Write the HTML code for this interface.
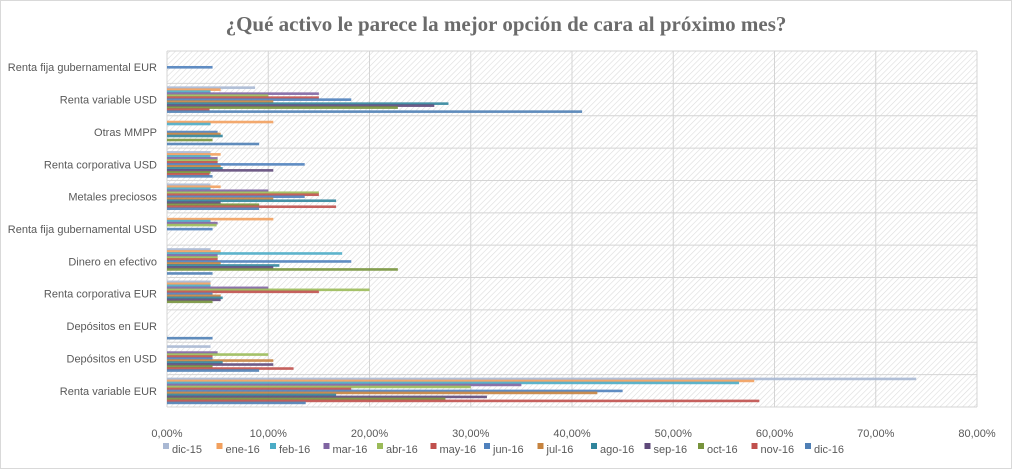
<!DOCTYPE html>
<html><head><meta charset="utf-8"><style>
body{margin:0;background:#fff;}
#wrap{position:relative;width:1012px;height:469px;overflow:hidden;}
text{font-family:"Liberation Sans",sans-serif;}
</style></head><body>
<div id="wrap">
<svg id="chart" width="1012" height="469">
<defs><pattern id="hatch" width="4" height="4" patternUnits="userSpaceOnUse" patternTransform="rotate(45)">
<rect width="4" height="4" fill="#fff"/><line x1="0" y1="0" x2="0" y2="4" stroke="#dcdcdc" stroke-width="1.2"/></pattern></defs>
<rect x="0.5" y="0.5" width="1011" height="468" fill="#fff" stroke="#d9d9d9"/>
<text x="506" y="31" text-anchor="middle" style="font-family:'Liberation Serif',serif;font-weight:bold;font-size:21px;fill:#6b6b6b">¿Qué activo le parece la mejor opción de cara al próximo mes?</text>
<rect x="167" y="51" width="810" height="356" fill="url(#hatch)"/>
<g id="grid"></g><g id="bars"></g><g id="labels"></g><g id="legend"></g>
</svg>
</div>
<script>
const categories=["Renta fija gubernamental EUR","Renta variable USD","Otras MMPP","Renta corporativa USD","Metales preciosos","Renta fija gubernamental USD","Dinero en efectivo","Renta corporativa EUR","Depósitos en EUR","Depósitos en USD","Renta variable EUR"];
const seriesNames=["dic-15","ene-16","feb-16","mar-16","abr-16","may-16","jun-16","jul-16","ago-16","sep-16","oct-16","nov-16","dic-16"];
const seriesColors=["#a9b8d3","#f2a05e","#4bacc6","#8064a2","#9bbb59","#c0504d","#4f81bd","#c6833f","#31859c","#5f497a","#77933c","#c0504d","#4f7fb5"];
// values[category][series] in %
const values=[
[0,0,0,0,0,0,4.5,0,0,0,0,0,0],
[8.7,5.3,4.3,15,10,15,18.2,10.5,27.8,26.4,22.8,4.2,41],
[0,10.5,4.3,0,0,0,5,5.3,5.5,0,4.5,0,9.1],
[4.3,5.3,4.3,5,5,5,13.6,5.3,5.5,10.5,4.3,4.2,4.5],
[4.3,5.3,4.3,10,15,15,13.6,10.5,16.7,5.3,9.1,16.7,9.1],
[0,10.5,4.3,5,4.9,0,4.5,0,0,0,0,0,0],
[4.3,5.3,17.3,5,5,5,18.2,5.3,11.1,10.5,22.8,0,4.5],
[4.3,4.3,4.3,10,20,15,4.5,5.3,5.5,5.3,4.5,0,0],
[0,0,0,0,0,0,0,0,0,0,0,0,4.5],
[4.3,0,0,5,10,4.5,4.5,10.5,5.5,10.5,4.5,12.5,9.1],
[74,58,56.5,35,30,18.2,45,42.5,16.7,31.6,27.5,58.5,13.7]
];
const xTicks=[0,10,20,30,40,50,60,70,80];
const tickLabels=["0,00%","10,00%","20,00%","30,00%","40,00%","50,00%","60,00%","70,00%","80,00%"];
const NS="http://www.w3.org/2000/svg";
const X0=167,X1=977,Y0=51,Y1=407,XMAX=80;
const bandH=(Y1-Y0)/categories.length;
function xs(v){return X0+(v/XMAX)*(X1-X0);}
function band(i){return Y0+i*bandH;}
function mk(tag,attrs,parent){const e=document.createElementNS(NS,tag);for(const k in attrs)e.setAttribute(k,attrs[k]);parent.appendChild(e);return e;}
const grid=document.getElementById('grid'),bars=document.getElementById('bars'),labels=document.getElementById('labels'),legend=document.getElementById('legend');
xTicks.forEach((t,i)=>{
 const l=mk('line',{x1:xs(t),x2:xs(t),y1:Y0,y2:Y1,stroke:'#d4d4d4','stroke-width':1},grid);
 
 
 const tx=mk('text',{x:xs(t),y:437,'text-anchor':'middle','font-size':'11px',fill:'#595959'},labels);
 tx.textContent=tickLabels[i];
 
 
});
for(let i=0;i<=categories.length;i++){
 const l=mk('line',{x1:X0,x2:X1,y1:band(i),y2:band(i),stroke:'#d4d4d4','stroke-width':1},grid);
 
 
}
const n=seriesNames.length,step=(bandH-6)/(n-1+1.2),bh=2.6;
categories.forEach((c,ci)=>{
 const tx=mk('text',{x:157,y:band(ci)+bandH/2+4,'text-anchor':'end','font-size':'11px',fill:'#595959'},labels);
 tx.textContent=c;
 
 
 values[ci].forEach((v,si)=>{
  if(v<=0)return;
  const r=mk('rect',{x:X0,y:band(ci)+3+si*step,width:xs(v)-X0,height:bh,fill:seriesColors[si],'fill-opacity':0.9},bars);
  
  
 });
});
let lx=163;
seriesNames.forEach((s,si)=>{
 const r=mk('rect',{x:lx,y:443,width:6,height:6,fill:seriesColors[si]},legend);
 
 
 const t=mk('text',{x:lx+9,y:453,'font-size':'11px',fill:'#595959'},legend);
 t.textContent=s;
 
 
 lx+=53.5;
});
</script>
</body></html>
